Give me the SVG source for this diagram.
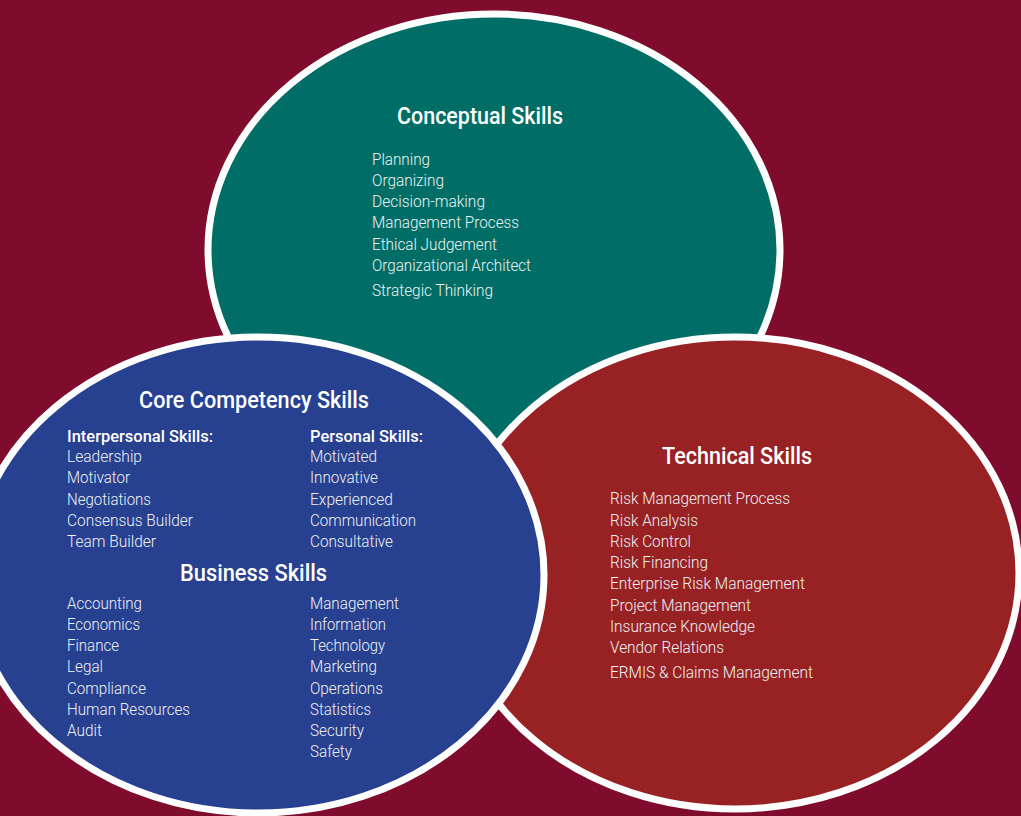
<svg xmlns="http://www.w3.org/2000/svg" width="1021" height="816" viewBox="0 0 1021 816">
<style>
.ell{stroke:#ffffff;stroke-width:7}
text{font-family:Roboto,"Liberation Sans",Arial,sans-serif;fill:#eef2f4}
.t{font-size:24px;fill:#ffffff;font-weight:500}
.i{font-size:17px;font-weight:300}
.h{font-size:17px;font-weight:500;fill:#ffffff}
</style>
<rect width="1021" height="816" fill="#800c2d"/>
<g id="conceptual">
<ellipse class="ell" cx="494" cy="250" rx="286" ry="236" fill="#006e66"/>
<text class="t" x="397" y="124" textLength="166" lengthAdjust="spacingAndGlyphs">Conceptual Skills</text>
<text class="i" x="372" y="165" textLength="58" lengthAdjust="spacingAndGlyphs">Planning</text>
<text class="i" x="372" y="186" textLength="72" lengthAdjust="spacingAndGlyphs">Organizing</text>
<text class="i" x="372" y="207" textLength="113" lengthAdjust="spacingAndGlyphs">Decision-making</text>
<text class="i" x="372" y="228" textLength="147" lengthAdjust="spacingAndGlyphs">Management Process</text>
<text class="i" x="372" y="250" textLength="125" lengthAdjust="spacingAndGlyphs">Ethical Judgement</text>
<text class="i" x="372" y="271" textLength="159" lengthAdjust="spacingAndGlyphs">Organizational Architect</text>
<text class="i" x="372" y="296" textLength="121" lengthAdjust="spacingAndGlyphs">Strategic Thinking</text>
</g>
<g id="technical">
<ellipse class="ell" cx="735" cy="573" rx="284" ry="236" fill="#982124"/>
<text class="t" x="662" y="464" textLength="150" lengthAdjust="spacingAndGlyphs">Technical Skills</text>
<text class="i" x="610" y="504" textLength="180" lengthAdjust="spacingAndGlyphs">Risk Management Process</text>
<text class="i" x="610" y="526" textLength="88" lengthAdjust="spacingAndGlyphs">Risk Analysis</text>
<text class="i" x="610" y="547" textLength="81" lengthAdjust="spacingAndGlyphs">Risk Control</text>
<text class="i" x="610" y="568" textLength="98" lengthAdjust="spacingAndGlyphs">Risk Financing</text>
<text class="i" x="610" y="589" textLength="195" lengthAdjust="spacingAndGlyphs">Enterprise Risk Management</text>
<text class="i" x="610" y="611" textLength="141" lengthAdjust="spacingAndGlyphs">Project Management</text>
<text class="i" x="610" y="632" textLength="145" lengthAdjust="spacingAndGlyphs">Insurance Knowledge</text>
<text class="i" x="610" y="653" textLength="114" lengthAdjust="spacingAndGlyphs">Vendor Relations</text>
<text class="i" x="610" y="678" textLength="203" lengthAdjust="spacingAndGlyphs">ERMIS &amp; Claims Management</text>
</g>
<g id="core">
<ellipse class="ell" cx="258" cy="575" rx="286" ry="238" fill="#27408f"/>
<text class="t" x="139" y="408" textLength="230" lengthAdjust="spacingAndGlyphs">Core Competency Skills</text>
<text class="h" x="67" y="442" textLength="146" lengthAdjust="spacingAndGlyphs">Interpersonal Skills:</text>
<text class="i" x="67" y="462" textLength="75" lengthAdjust="spacingAndGlyphs">Leadership</text>
<text class="i" x="67" y="483" textLength="63" lengthAdjust="spacingAndGlyphs">Motivator</text>
<text class="i" x="67" y="505" textLength="84" lengthAdjust="spacingAndGlyphs">Negotiations</text>
<text class="i" x="67" y="526" textLength="126" lengthAdjust="spacingAndGlyphs">Consensus Builder</text>
<text class="i" x="67" y="547" textLength="89" lengthAdjust="spacingAndGlyphs">Team Builder</text>
<text class="h" x="310" y="442" textLength="113" lengthAdjust="spacingAndGlyphs">Personal Skills:</text>
<text class="i" x="310" y="462" textLength="67" lengthAdjust="spacingAndGlyphs">Motivated</text>
<text class="i" x="310" y="483" textLength="68" lengthAdjust="spacingAndGlyphs">Innovative</text>
<text class="i" x="310" y="505" textLength="83" lengthAdjust="spacingAndGlyphs">Experienced</text>
<text class="i" x="310" y="526" textLength="106" lengthAdjust="spacingAndGlyphs">Communication</text>
<text class="i" x="310" y="547" textLength="83" lengthAdjust="spacingAndGlyphs">Consultative</text>
<text class="t" x="180" y="581" textLength="147" lengthAdjust="spacingAndGlyphs">Business Skills</text>
<text class="i" x="67" y="609" textLength="75" lengthAdjust="spacingAndGlyphs">Accounting</text>
<text class="i" x="67" y="630" textLength="73" lengthAdjust="spacingAndGlyphs">Economics</text>
<text class="i" x="67" y="651" textLength="52" lengthAdjust="spacingAndGlyphs">Finance</text>
<text class="i" x="67" y="672" textLength="36" lengthAdjust="spacingAndGlyphs">Legal</text>
<text class="i" x="67" y="694" textLength="79" lengthAdjust="spacingAndGlyphs">Compliance</text>
<text class="i" x="67" y="715" textLength="123" lengthAdjust="spacingAndGlyphs">Human Resources</text>
<text class="i" x="67" y="736" textLength="35" lengthAdjust="spacingAndGlyphs">Audit</text>
<text class="i" x="310" y="609" textLength="89" lengthAdjust="spacingAndGlyphs">Management</text>
<text class="i" x="310" y="630" textLength="76" lengthAdjust="spacingAndGlyphs">Information</text>
<text class="i" x="310" y="651" textLength="75" lengthAdjust="spacingAndGlyphs">Technology</text>
<text class="i" x="310" y="672" textLength="67" lengthAdjust="spacingAndGlyphs">Marketing</text>
<text class="i" x="310" y="694" textLength="73" lengthAdjust="spacingAndGlyphs">Operations</text>
<text class="i" x="310" y="715" textLength="61" lengthAdjust="spacingAndGlyphs">Statistics</text>
<text class="i" x="310" y="736" textLength="54" lengthAdjust="spacingAndGlyphs">Security</text>
<text class="i" x="310" y="757" textLength="42" lengthAdjust="spacingAndGlyphs">Safety</text>
</g>
</svg>
